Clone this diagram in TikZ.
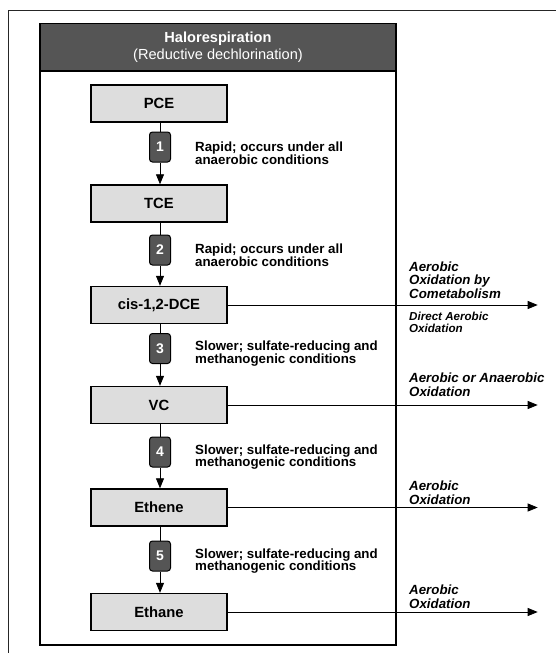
\documentclass[tikz,border=0pt]{standalone}
\usepackage{fontspec}
\setmainfont{Liberation Sans}
\usetikzlibrary{positioning, arrows.meta}
\definecolor{boxgray}{RGB}{221,221,221}
\definecolor{hdrgray}{RGB}{85,85,85}

\begin{document}
\begin{tikzpicture}[x=1pt, y=-1pt,
	compound/.style={rectangle, draw, line width=1.4pt, fill=boxgray, minimum width=136pt, minimum height=37pt, font=\fontsize{14.8}{16}\selectfont\bfseries},
	badge/.style={rectangle, rounded corners=3pt, draw, line width=1pt, fill=hdrgray, text=white, minimum width=21pt, minimum height=30pt, inner sep=0pt, font=\fontsize{14}{16}\selectfont\bfseries},
	cond/.style={anchor=west, align=left, inner sep=0pt, font=\fontsize{13.3}{12.8}\selectfont\bfseries},
	route/.style={align=left, inner sep=0pt, font=\fontsize{13.3}{13.5}\selectfont\bfseries\itshape},
	flow/.style={-{Triangle[length=10pt,width=8pt]}, line width=0.8pt}]
			\useasboundingbox (0,0) rectangle (556,653);
			
			\draw[line width=1.5pt, black!85] (8.5,653) -- (8.5,10.5) -- (556,10.5);
			\draw[line width=1.5pt] (40,71) rectangle (396,645);
			\node[rectangle, draw, line width=1.5pt, fill=hdrgray, text=white, minimum width=356pt, minimum height=47.5pt, align=center, font=\fontsize{14.6}{17.6}\selectfont] (head) at (218,47.25) {\textbf{Halorespiration}\\(Reductive dechlorination)};
			
			\node[compound] (PCE) at (159,103.5) {PCE};
			\node[compound] (TCE) at (159,203.5) {TCE};
			\node[compound] (DCE) at (159,305) {cis-1,2-DCE};
			\node[compound] (VC) at (159,405) {VC};
			\node[compound] (ETE) at (159,507.5) {Ethene};
			\node[compound] (ETA) at (159,612) {Ethane};
			
			\node[badge] (s1) at (160,147) {1};
			\node[badge] (s2) at (160,250) {2};
			\node[badge] (s3) at (160,348.5) {3};
			\node[badge] (s4) at (160,452) {4};
			\node[badge] (s5) at (160,556) {5};
			
			\draw[line width=0.8pt] (PCE.south -| s1) -- (s1);
			\draw[flow] (s1) -- (s1 |- TCE.north);
			\draw[line width=0.8pt] (TCE.south -| s2) -- (s2);
			\draw[flow] (s2) -- (s2 |- DCE.north);
			\draw[line width=0.8pt] (DCE.south -| s3) -- (s3);
			\draw[flow] (s3) -- (s3 |- VC.north);
			\draw[line width=0.8pt] (VC.south -| s4) -- (s4);
			\draw[flow] (s4) -- (s4 |- ETE.north);
			\draw[line width=0.8pt] (ETE.south -| s5) -- (s5);
			\draw[flow] (s5) -- (s5 |- ETA.north);
			
			\node[cond] (c1) at (195,153) {Rapid; occurs under all\\anaerobic conditions};
			\node[cond] (c2) at (195,255) {Rapid; occurs under all\\anaerobic conditions};
			\node[cond] (c3) at (195,353.5) {Slower; sulfate-reducing and\\methanogenic conditions};
			\node[cond] (c4) at (195,457) {Slower; sulfate-reducing and\\methanogenic conditions};
			\node[cond] (c5) at (195,561) {Slower; sulfate-reducing and\\methanogenic conditions};
			
			\coordinate[right=310pt of DCE.east] (oDCE);
			\coordinate[right=310pt of VC.east] (oVC);
			\coordinate[right=310pt of ETE.east] (oETE);
			\coordinate[right=310pt of ETA.east] (oETA);
			\draw[flow] (DCE) -- (oDCE);
			\draw[flow] (VC) -- (oVC);
			\draw[flow] (ETE) -- (oETE);
			\draw[flow] (ETA) -- (oETA);
			
			\node[route, anchor=south west] (rDCE) at (409,298.5) {Aerobic\\Oxidation by\\Cometabolism};
			\node[route, anchor=north west, font=\fontsize{11.6}{12.3}\selectfont\bfseries\itshape] (dDCE) at (409,311.5) {Direct Aerobic\\Oxidation};
			\node[route, anchor=south west] (rVC) at (409,396.5) {Aerobic or Anaerobic\\Oxidation};
			\node[route, anchor=south west] (rETE) at (409,504.5) {Aerobic\\Oxidation};
			\node[route, anchor=south west] (rETA) at (409,608.5) {Aerobic\\Oxidation};
			
		\end{tikzpicture}
\end{document}
